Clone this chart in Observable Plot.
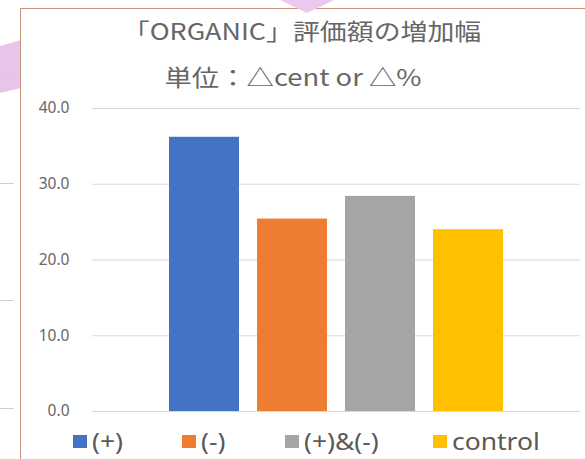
<!DOCTYPE html>
<html>
<head>
<meta charset="utf-8">
<script src="https://cdn.jsdelivr.net/npm/d3@7"></script>
<script src="https://cdn.jsdelivr.net/npm/@observablehq/plot@0.6"></script>
<style>
  html, body { margin: 0; padding: 0; background: #fff; }
  body { width: 585px; height: 459px; position: relative; overflow: hidden;
         font-family: "Noto Sans CJK JP", "Noto Sans", sans-serif; color: #595959; }
  .abs { position: absolute; }
  #frame { left: 20px; top: 8px; width: 600px; height: 500px; border: 1.5px solid #c8927c; background: #fff; box-sizing: border-box; }
  #pinkL { left: 0; top: 38px; width: 21px; height: 56px; background: #e8c4ea; clip-path: polygon(0 8px, 21px 2px, 21px 50px, 0 55px); }
  #pinkT { left: 280px; top: 0; width: 54px; height: 14px; background: #ecc8ee; clip-path: polygon(0 0, 54px 0, 27px 13px); }
  .gtick { left: 0; width: 14px; height: 1px; background: #cfcfcf; }
  .title { white-space: nowrap; line-height: 1; transform-origin: center center; color: #666; }
  .item { position: absolute; top: 430px; display: flex; align-items: center; white-space: nowrap;
          font-family: "Noto Sans", sans-serif; font-size: 23px; line-height: 1; color: #595959; }
  .sw { width: 14px; height: 13px; margin-right: 5px; }
  .lbl { display: inline-block; transform: scaleX(1.15); transform-origin: left center; }
  #chart { left: 0; top: 100px; }
</style>
</head>
<body>
<div id="pinkL" class="abs"></div>
<div class="abs gtick" style="top:75px"></div>
<div class="abs gtick" style="top:183px"></div>
<div class="abs gtick" style="top:300px"></div>
<div class="abs gtick" style="top:408px"></div>
<div id="frame" class="abs"></div>
<div id="pinkT" class="abs"></div>
<div id="title" class="abs title" style="left:302px; top:19px; font-size:23px; transform: translateX(-50%) scaleX(1.17);">「ORGANIC」評価額の増加幅</div>
<div id="subtitle" class="abs title" style="left:293px; top:65px; font-size:23px; transform: translateX(-50%) scaleX(1.19);">単位：△cent or △%</div>
<div id="chart" class="abs"></div>
<div id="legend"></div>
<script>
const categories = ["(+)", "(-)", "(+)&(-)", "control"];
const values = [36.2, 25.4, 28.4, 24.0];
const colors = ["#4472c4", "#ed7d31", "#a5a5a5", "#ffc000"];
const yTicks = [0, 10, 20, 30, 40];

const data = categories.map((c, i) => ({cat: c, value: values[i]}));

const chart = Plot.plot({
  width: 585,
  height: 316,
  marginLeft: 92,
  marginRight: 5,
  marginTop: 8,
  marginBottom: 5,
  style: {background: "transparent", fontSize: "15.5px", fontFamily: "'Noto Sans', sans-serif", color: "#666", overflow: "visible"},
  x: {domain: categories, paddingInner: 0.21, paddingOuter: 0.868, axis: null},
  y: {domain: [0, 40], ticks: yTicks, tickFormat: d => d.toFixed(1), tickSize: 0, tickPadding: 23, label: null},
  color: {domain: categories, range: colors},
  marks: [
    Plot.ruleY(yTicks, {stroke: "#d9d9d9", strokeWidth: 1}),
    Plot.barY(data, {x: "cat", y: "value", fill: "cat"})
  ]
});
document.getElementById("chart").appendChild(chart);

// legend item left positions (layout only)
const legendX = [73, 182, 285, 433];
const legend = document.getElementById("legend");
categories.forEach((c, i) => {
  const item = document.createElement("div");
  item.className = "item";
  item.style.left = legendX[i] + "px";
  const sw = document.createElement("div");
  sw.className = "sw";
  sw.style.background = colors[i];
  const t = document.createElement("span");
  t.className = "lbl";
  t.textContent = c;
  item.appendChild(sw);
  item.appendChild(t);
  legend.appendChild(item);
});
</script>
</body>
</html>
